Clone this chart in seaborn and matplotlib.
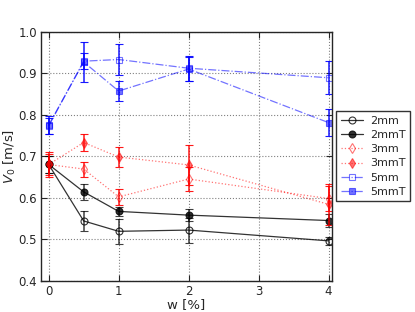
import numpy as np
import pandas as pd
import matplotlib
matplotlib.use("Agg")
import matplotlib.pyplot as plt
import seaborn as sns

w = [0, 0.5, 1, 2, 4]
labels = ["2mm", "2mmT", "3mm", "3mmT", "5mm", "5mmT"]
v_2mm = [0.680, 0.544, 0.519, 0.522, 0.496]
v_2mmT = [0.680, 0.614, 0.567, 0.558, 0.545]
v_3mm = [0.680, 0.669, 0.602, 0.645, 0.598]
v_3mmT = [0.680, 0.733, 0.698, 0.679, 0.584]
v_5mm = [0.773, 0.929, 0.933, 0.912, 0.889]
v_5mmT = [0.775, 0.927, 0.857, 0.910, 0.781]
e_2mm = [0.020, 0.025, 0.030, 0.030, 0.010]
e_2mmT = [0.020, 0.020, 0.010, 0.015, 0.015]
e_3mm = [0.025, 0.018, 0.020, 0.030, 0.030]
e_3mmT = [0.030, 0.020, 0.025, 0.048, 0.050]
e_5mm = [0.020, 0.020, 0.038, 0.030, 0.040]
e_5mmT = [0.022, 0.048, 0.025, 0.030, 0.032]

values = [v_2mm, v_2mmT, v_3mm, v_3mmT, v_5mm, v_5mmT]
errors = [e_2mm, e_2mmT, e_3mm, e_3mmT, e_5mm, e_5mmT]
colors = ["black", "black", "red", "red", "blue", "blue"]
markers = ["o", "o", "d", "d", "s", "s"]
filled = [False, True, False, True, False, True]
styles = ["-", "-", ":", ":", "-.", "-."]

sns.set_style("ticks")
plt.rcParams["font.family"] = ["DejaVu Sans"]
plt.rcParams["mathtext.fontset"] = "dejavusans"

fig = plt.figure(figsize=(4.15, 3.12), dpi=100)
ax = fig.add_axes([41/415, 1 - 280.7/312, (332-41)/415, (280.7-31.7)/312])

for lab, v, e, c, m, f, ls in zip(labels, values, errors, colors, markers, filled, styles):
    df = pd.DataFrame({"w": w, "v": v})
    sns.lineplot(data=df, x="w", y="v", ax=ax, color=c, linestyle=ls, linewidth=0.9,
                 marker=m, markersize=5,
                 markerfacecolor=(c if f else "none"), markeredgecolor=c,
                 markeredgewidth=0.8, alpha=0.8 if c == "black" else 0.55, label=lab)
    ax.errorbar(w, v, yerr=e, fmt="none", ecolor=c, elinewidth=1.1, capsize=3,
                capthick=0.8, alpha=0.75 if c == "black" else 0.9)

ax.set_xlim(-0.11, 4.05)
ax.set_ylim(0.4, 1.0)
ax.set_xticks([0, 1, 2, 3, 4])
ax.set_yticks([0.4, 0.5, 0.6, 0.7, 0.8, 0.9, 1.0])
ax.set_yticklabels(["0.4", "0.5", "0.6", "0.7", "0.8", "0.9", "1.0"])
ax.grid(True, linestyle=":", color="gray", linewidth=0.8)
ax.tick_params(direction="in", top=True, right=True, labelsize=8.5, length=4, pad=3)
for s in ax.spines.values():
    s.set_linewidth(1.0)
ax.set_xlabel("w [%]", fontsize=9.5, labelpad=0)
ax.set_ylabel(r"$V_0$ [m/s]", fontsize=9.5, labelpad=0)

leg = ax.legend(loc="upper left", bbox_to_anchor=(1.015, 0.68), fontsize=8,
                frameon=True, fancybox=False, edgecolor="black", borderpad=0.4,
                labelspacing=0.38, handlelength=2.0, handletextpad=0.6, borderaxespad=0)
leg.get_frame().set_linewidth(1.0)

fig.savefig("out.png", dpi=100)
